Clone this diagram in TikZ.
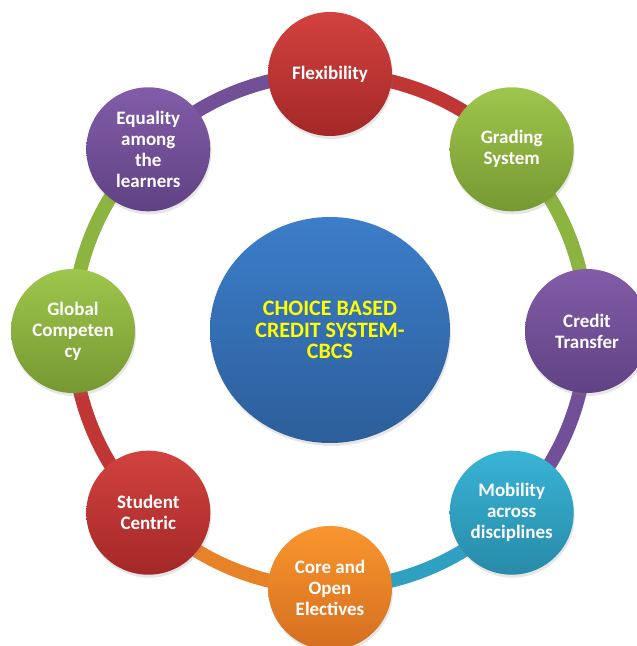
\documentclass[tikz,border=0pt]{standalone}
\usepackage{fontspec}
\setmainfont{Carlito}
\usetikzlibrary{shapes.geometric,backgrounds,shadows}
\definecolor{redtop}{RGB}{210,66,62}
\definecolor{redbot}{RGB}{163,40,40}
\definecolor{greentop}{RGB}{158,198,76}
\definecolor{greenbot}{RGB}{118,152,50}
\definecolor{purpletop}{RGB}{130,92,168}
\definecolor{purplebot}{RGB}{96,66,132}
\definecolor{tealtop}{RGB}{56,180,214}
\definecolor{tealbot}{RGB}{40,138,168}
\definecolor{orangetop}{RGB}{250,150,46}
\definecolor{orangebot}{RGB}{212,110,32}
\definecolor{bluetop}{RGB}{60,126,202}
\definecolor{bluebot}{RGB}{44,94,154}
\definecolor{ringred}{RGB}{192,54,52}
\definecolor{ringgreen}{RGB}{140,180,64}
\definecolor{ringpurple}{RGB}{114,80,152}
\definecolor{ringteal}{RGB}{48,160,194}
\definecolor{ringorange}{RGB}{232,130,40}
\definecolor{cbcsyellow}{RGB}{255,255,0}
\begin{document}
\begin{tikzpicture}[x=1pt, y=1pt,
  bubble/.style={circle, minimum size=124pt, inner sep=0pt, align=center,
    text=white, font=\fontsize{19}{21}\selectfont\bfseries,
    drop shadow={opacity=0.2, shadow xshift=1pt, shadow yshift=-3pt}},
  red bubble/.style={bubble, top color=redtop, bottom color=redbot},
  green bubble/.style={bubble, top color=greentop, bottom color=greenbot},
  purple bubble/.style={bubble, top color=purpletop, bottom color=purplebot},
  teal bubble/.style={bubble, top color=tealtop, bottom color=tealbot},
  orange bubble/.style={bubble, top color=orangetop, bottom color=orangebot},
  ring/.style={line width=14pt, bend left=22.5, looseness=0.89}]
\useasboundingbox (0,0) rectangle (637,646);
\clip (0,0) rectangle (637,646);
% centre
\node [ellipse, minimum width=240pt, minimum height=226pt, inner sep=0pt,
  top color=bluetop, bottom color=bluebot, align=center, text=cbcsyellow,
  font=\fontsize{22}{21.5}\selectfont\bfseries,
  drop shadow={opacity=0.2, shadow xshift=1pt, shadow yshift=-3pt}]
  (cbcs) at (330,316) {CHOICE BASED\\CREDIT SYSTEM-\\CBCS};
% bubbles round the ring
\node [red bubble] (flex) at (330,572) {Flexibility};
\node [green bubble] (grading) at (511.7,496.7) {Grading\\System};
\node [purple bubble] (transfer) at (587,315) {Credit\\Transfer};
\node [teal bubble] (mobility) at (511.7,133.3) {Mobility\\across\\disciplines};
\node [orange bubble] (electives) at (330,58) {Core and\\Open\\Electives};
\node [red bubble] (centric) at (148.3,133.3) {Student\\Centric};
\node [green bubble] (global) at (73,315) {Global\\Competen\\cy};
\node [purple bubble] (equality) at (148.3,496.7) {Equality\\among\\the\\learners};
\begin{scope}[on background layer]
  \draw [ring, ringred] (flex.center) to (grading.center);
  \draw [ring, ringgreen] (grading.center) to (transfer.center);
  \draw [ring, ringpurple] (transfer.center) to (mobility.center);
  \draw [ring, ringteal] (mobility.center) to (electives.center);
  \draw [ring, ringorange] (electives.center) to (centric.center);
  \draw [ring, ringred] (centric.center) to (global.center);
  \draw [ring, ringgreen] (global.center) to (equality.center);
  \draw [ring, ringpurple] (equality.center) to (flex.center);
\end{scope}
\end{tikzpicture}
\end{document}
